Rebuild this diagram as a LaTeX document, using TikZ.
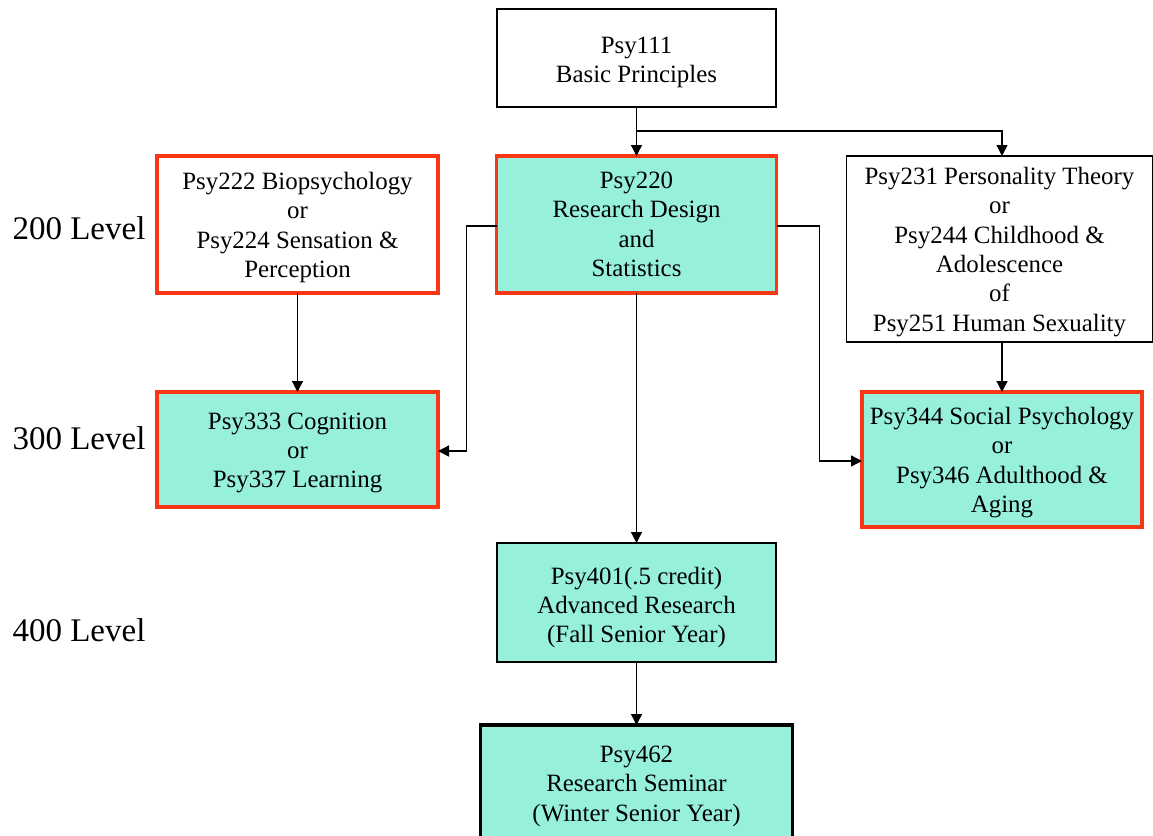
\documentclass[tikz,border=0pt]{standalone}
\usepackage{fontspec}
\setmainfont{Liberation Serif}
\usetikzlibrary{arrows.meta,calc}
\definecolor{teal1}{RGB}{150,240,220}
\definecolor{redb}{RGB}{250,55,20}
\newcommand{\bx}[2][3pt]{\raisebox{-#1}[\height][\depth]{\begin{tabular}{@{}c@{}}#2\end{tabular}}}
\tikzset{
  box/.style={rectangle, inner sep=0pt, outer sep=0pt,
    font=\fontsize{24.9}{29.3}\selectfont, text=black},
  plain/.style={box, draw=black, line width=1.3pt, fill=white},
  redwhite/.style={box, draw=redb, line width=3.2pt, fill=white},
  redteal/.style={box, draw=redb, line width=3.2pt, fill=teal1},
  blackteal/.style={box, draw=black, line width=1.3pt, fill=teal1},
  thickteal/.style={box, draw=black, line width=3.5pt, fill=teal1},
  lvl/.style={font=\fontsize{33}{37}\selectfont, inner sep=0pt},
  arr/.style={line width=1.3pt, -{Triangle[length=11pt,width=11pt]}}
}
\begin{document}
\begin{tikzpicture}[x=1pt,y=-1pt]
\useasboundingbox (0,0) rectangle (1153,835);
\node[plain, minimum width=279, minimum height=98] (p111) at (636.5,58) {\bx[4pt]{Psy111\\Basic Principles}};
\node[redteal, minimum width=280, minimum height=137] (p220) at (636.5,224.5) {\bx[2pt]{Psy220\\Research Design\\and\\Statistics}};
\node[redwhite, minimum width=281, minimum height=137] (p222) at (297.5,224.5) {\bx[3pt]{Psy222 Biopsychology\\or\\Psy224 Sensation \&\\Perception}};
\node[plain, minimum width=306, minimum height=186] (p231) at (999.5,249) {\bx[3pt]{Psy231 Personality Theory\\or\\Psy244 Childhood \&\\Adolescence\\of\\Psy251 Human Sexuality}};
\node[redteal, minimum width=281, minimum height=115] (p333) at (297.5,449.5) {\bx[3pt]{Psy333 Cognition\\or\\Psy337 Learning}};
\node[redteal, minimum width=280, minimum height=135] (p344) at (1002,459.5) {\bx[3pt]{Psy344 Social Psychology\\or\\Psy346 Adulthood \&\\Aging}};
\node[blackteal, minimum width=279, minimum height=119] (p401) at (636.5,602.5) {\bx[5pt]{Psy401(.5 credit)\\Advanced Research\\(Fall Senior Year)}};
\node[thickteal, minimum width=312, minimum height=120] (p462) at (636.5,785) {\bx[1pt]{Psy462\\Research Seminar\\(Winter Senior Year)}};

\node[lvl] (l200) at (79,228) {200 Level};
\node[lvl] (l300) at (79,438) {300 Level};
\node[lvl] (l400) at (79,630) {400 Level};

\coordinate (j1) at ($(p111.south)+(0,24)$);
\draw[arr] (p111.south) -- (p220.north);
\draw[arr] (j1) -| (p231.north -| p344.north);
\draw[arr] (p222.south) -- (p333.north);
\draw[arr] ($(p220.west)+(0,1.5)$) -- ++(-30,0) |- ($(p333.east)+(0,1.5)$);
\draw[arr] ($(p220.east)+(0,1.5)$) -- ++(43,0) |- ($(p344.west)+(0,1.5)$);
\draw[arr] (p220.south) -- (p401.north);
\draw[arr] (p231.south -| p344.north) -- (p344.north);
\draw[arr] (p401.south) -- (p462.north);
\end{tikzpicture}
\end{document}
